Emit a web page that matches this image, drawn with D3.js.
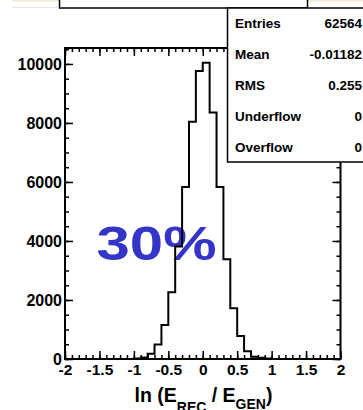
<!DOCTYPE html>
<html lang="en">
<head>
<meta charset="utf-8">
<title>ln(Erec/Egen)</title>
<script src="https://cdn.jsdelivr.net/npm/d3@7"></script>
<style>
  body { margin: 0; background: #fff; }
  svg text { font-family: "Liberation Sans", Arial, Helvetica, sans-serif; font-weight: bold; }
</style>
</head>
<body>
<script>

// histogram bins: 40 bins of 0.1 from -2 to 2 (lower edges)
var binEdges = d3.range(40).map(function(i){ return Math.round((-2 + i*0.1)*10)/10; });
var binCounts = [
  0, 0, 0, 0, 0, 0, 0, 0, 0, 3,          // -2.0 .. -1.1
  15, 50, 180, 490, 1150, 2260, 3810, 5830, 8040, 9760,   // -1.0 .. -0.1
  10040, 8350, 5830, 3380, 1720, 780, 260, 80, 40, 15,    // 0.0 .. 0.9
  0, 0, 0, 0, 0, 0, 0, 0, 0, 0            // 1.0 .. 1.9
];

var xMajor = [-2, -1.5, -1, -0.5, 0, 0.5, 1, 1.5, 2];
var yMajor = [0, 2000, 4000, 6000, 8000, 10000];

var statNames  = ["Entries", "Mean", "RMS", "Underflow", "Overflow"];
var statValues = ["62564", "-0.01182", "0.255", "0", "0"];

var W = 363, H = 410;
// frame edges (note: "top" is taken by window.top)
var padL = 65, padR = 340.5, padT = 48, padB = 359;

var svg = d3.select("body").append("svg")
    .attr("width", W)
    .attr("height", H);

var x = d3.scaleLinear().domain([-2, 2]).range([padL, padR]);
var y = d3.scaleLinear().domain([0, 10540]).range([padB, padT]);

// faint bits of the page above the pad
svg.append("line").attr("x1", 12).attr("x2", W).attr("y1", 0.5).attr("y2", 0.5)
   .attr("stroke", "#f1e9d2").attr("stroke-width", 2);
svg.append("line").attr("x1", 12).attr("x2", 59).attr("y1", 7.5).attr("y2", 7.5)
   .attr("stroke", "#e4e4e4").attr("stroke-width", 1);

// title box (cut off at top)
svg.append("rect")
   .attr("x", 59.5).attr("y", -10).attr("width", 248).attr("height", 18)
   .attr("fill", "#fff").attr("stroke", "#000").attr("stroke-width", 1.5);

// big label, under the histogram line
svg.append("text")
   .attr("x", 96.5).attr("y", 260)
   .attr("font-size", 49)
   .attr("fill", "#3434c9")
   .attr("textLength", 120)
   .attr("lengthAdjust", "spacingAndGlyphs")
   .text("30%");

// histogram outline
svg.append("clipPath").attr("id", "frameclip")
   .append("rect").attr("x", padL).attr("y", padT)
   .attr("width", padR - padL).attr("height", padB - padT);

var pts = binEdges.map(function(e, i){ return [e, binCounts[i]]; });
pts.unshift([-2, 0]);
pts.push([2, binCounts[binCounts.length - 1]]);

var histLine = d3.line()
    .x(function(d){ return x(d[0]); })
    .y(function(d){ return y(d[1]); })
    .curve(d3.curveStepAfter);

svg.append("path")
   .datum(pts)
   .attr("d", histLine)
   .attr("fill", "none")
   .attr("stroke", "#000")
   .attr("stroke-width", 2)
   .attr("clip-path", "url(#frameclip)");

// axes: ticks pointing inward
var xMinor = d3.range(41).map(function(i){ return -2 + i*0.1; });
var yMinor = d3.range(0, 10541, 500);
var fmt = function(d){ return String(d); };

svg.append("g").attr("transform", "translate(0," + padB + ")")
   .call(d3.axisBottom(x).tickValues(xMinor).tickSize(-4).tickFormat(""))
   .attr("class", "ax");
svg.append("g").attr("transform", "translate(0," + padB + ")")
   .call(d3.axisBottom(x).tickValues(xMajor).tickSize(-8).tickPadding(5).tickFormat(fmt))
   .attr("class", "ax xlab");

svg.append("g").attr("transform", "translate(0," + padT + ")")
   .call(d3.axisTop(x).tickValues(xMinor).tickSize(-4).tickFormat(""))
   .attr("class", "ax");
svg.append("g").attr("transform", "translate(0," + padT + ")")
   .call(d3.axisTop(x).tickValues(xMajor).tickSize(-8).tickFormat(""))
   .attr("class", "ax");

svg.append("g").attr("transform", "translate(" + padL + ",0)")
   .call(d3.axisLeft(y).tickValues(yMinor).tickSize(-4).tickFormat(""))
   .attr("class", "ax");
svg.append("g").attr("transform", "translate(" + padL + ",0)")
   .call(d3.axisLeft(y).tickValues(yMajor).tickSize(-8).tickPadding(3).tickFormat(fmt))
   .attr("class", "ax ylab");

svg.append("g").attr("transform", "translate(" + padR + ",0)")
   .call(d3.axisRight(y).tickValues(yMinor).tickSize(-4).tickFormat(""))
   .attr("class", "ax");
svg.append("g").attr("transform", "translate(" + padR + ",0)")
   .call(d3.axisRight(y).tickValues(yMajor).tickSize(-8).tickFormat(""))
   .attr("class", "ax");

svg.selectAll(".ax .domain").remove();
svg.selectAll(".ax line").attr("stroke", "#000").attr("stroke-width", 1.5);
svg.selectAll(".xlab text").attr("font-size", 15.5).attr("fill", "#000")
   .attr("font-family", null);
svg.selectAll(".ylab text").attr("font-size", 16).attr("fill", "#000")
   .attr("font-family", null).attr("dy", "0.36em");

// frame
svg.append("rect")
   .attr("x", padL).attr("y", padT)
   .attr("width", padR - padL).attr("height", padB - padT)
   .attr("fill", "none").attr("stroke", "#000").attr("stroke-width", 2);

// x axis title
var title = svg.append("text")
   .attr("x", 203.5).attr("y", 401.5)
   .attr("text-anchor", "middle")
   .attr("font-size", 19.5)
   .attr("fill", "#000");
title.append("tspan").text("ln (E");
title.append("tspan").attr("font-size", 14).attr("dy", 10).text("REC");
title.append("tspan").attr("dy", -10).text(" / E");
title.append("tspan").attr("font-size", 14).attr("dy", 7).text("GEN");
title.append("tspan").attr("dy", -7).text(")");

// stats box
svg.append("rect")
   .attr("x", 227.5).attr("y", 8).attr("width", 150).attr("height", 154)
   .attr("fill", "#fff").attr("stroke", "#000").attr("stroke-width", 1.5);

var statRows = svg.selectAll("g.stat")
   .data(statNames)
   .enter()
   .append("g")
   .attr("class", "stat");

statRows.append("text")
   .attr("x", 235)
   .attr("y", function(d, i){ return 28.3 + i*30.85; })
   .attr("font-size", 13.5)
   .text(function(d){ return d; });

statRows.append("text")
   .attr("x", 362)
   .attr("y", function(d, i){ return 28.3 + i*30.85; })
   .attr("font-size", 13.5)
   .attr("text-anchor", "end")
   .text(function(d, i){ return statValues[i]; });

</script>
</body>
</html>
